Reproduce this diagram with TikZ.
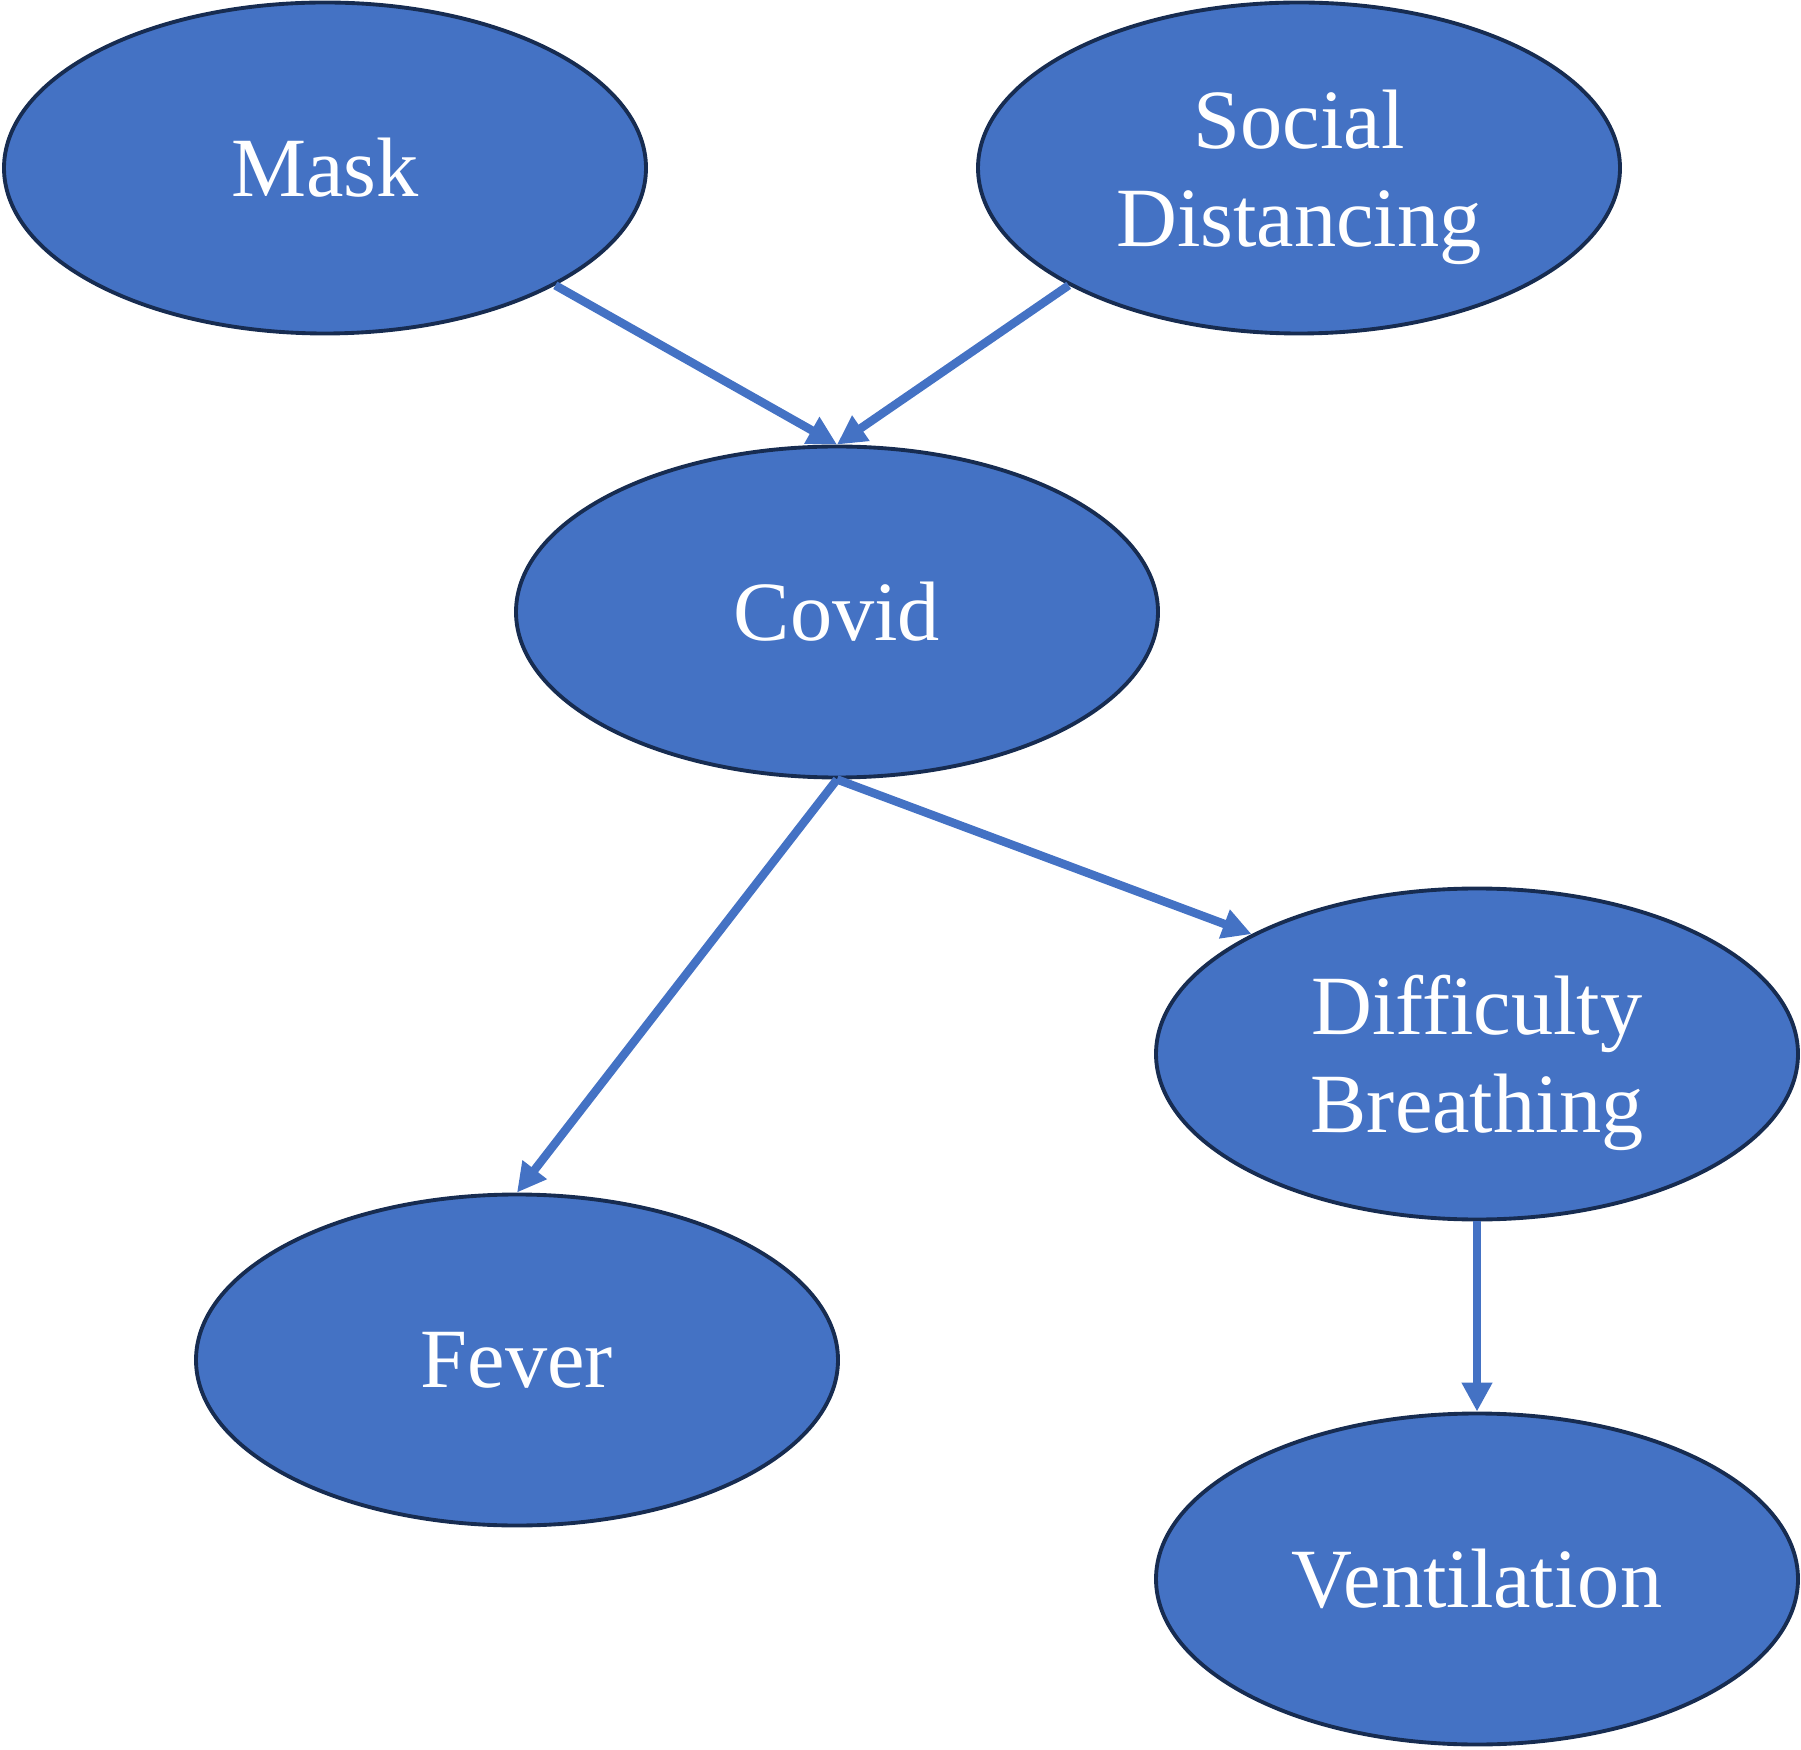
\documentclass[tikz,border=0pt]{standalone}
\usepackage{fontspec}
\setmainfont{Liberation Serif}
\usetikzlibrary{arrows.meta, shapes.geometric}
\definecolor{nodeblue}{HTML}{4472C4}
\definecolor{nodeedge}{HTML}{172C51}

\begin{document}
\begin{tikzpicture}[
            var/.style={ellipse, draw=nodeedge, line width=1.1pt, fill=nodeblue,
                minimum width=6.42cm, minimum height=3.31cm, inner sep=0pt,
                text=white, align=center, font=\fontsize{24}{28}\selectfont},
            two lines/.style={var, text depth=0pt},
            link/.style={draw=nodeblue, line width=2.4pt,
                -{Triangle[length=0.29cm, width=0.29cm]}}]

            \useasboundingbox (0,0) rectangle (18.01,-17.5);

            % Variables
            \node[var] (mask) at (3.25,-1.68) {Mask};
            \node[two lines] (social) at (12.99,-1.68) {Social\\Distancing};
            \node[var] (covid) at (8.37,-6.12) {Covid};
            \node[two lines] (breath) at (14.77,-10.54) {Difficulty\\Breathing};
            \node[var] (fever) at (5.17,-13.60) {Fever};
            \node[var] (vent) at (14.77,-15.79) {Ventilation};

            % Dependencies
            \draw[link] (mask.-27.4) -- (covid.north);
            \draw[link] (social.207.3) -- (covid.north);
            \draw[link] (covid.south) -- (fever.north);
            \draw[link] (covid.south) -- (breath.152.6);
            \draw[link] (breath.south) -- (vent.north);
        \end{tikzpicture}
\end{document}
